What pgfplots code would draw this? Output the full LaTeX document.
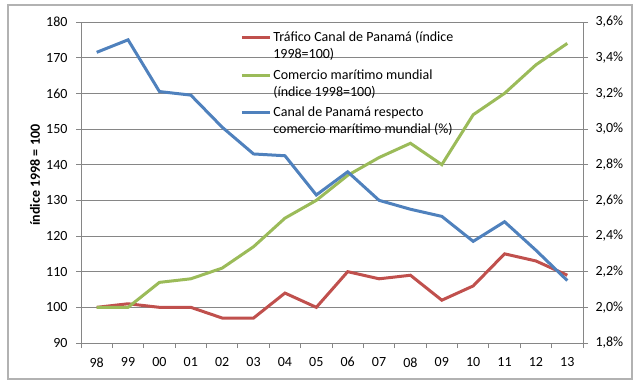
\documentclass[border=0pt]{standalone}
\usepackage{fontspec}
\setmainfont{Carlito}
\usepackage{pgfplots}
\pgfplotsset{compat=1.18}
\definecolor{cred}{RGB}{192,80,77}
\definecolor{cgreen}{RGB}{155,187,89}
\definecolor{cblue}{RGB}{79,129,189}
\definecolor{cgrid}{RGB}{134,134,134}
\begin{document}
\begin{tikzpicture}[x=1bp,y=1bp]
\path[use as bounding box] (0,0) rectangle (640,384);
\draw[color=gray!60, line width=1.2bp] (8,5) rectangle (632,379);
\pgfplotsset{
  every axis/.append style={
    at={(81bp,41bp)}, anchor=south west,
    scale only axis, width=502bp, height=321bp,
    xmin=-0.5, xmax=15.5,
    font=\fontsize{14bp}{17bp}\selectfont,
    tick style={color=cgrid, line width=0.8bp},
    axis line style={color=cgrid, line width=0.8bp},
    major tick length=5bp, minor tick length=5bp,
    tick align=outside,
    /pgf/number format/assume math mode=true,
  }
}
\begin{axis}[
  ymin=90, ymax=180, ytick={90,100,...,180},
  xtick={0,...,15},
  xticklabels={98,99,00,01,02,03,04,05,06,07,08,09,10,11,12,13},
  minor xtick={-0.5,0.5,...,15.5},
  major x tick style={draw=none},
  xtick pos=bottom, ytick pos=left,
  xticklabel style={yshift=-6bp},
  yticklabel style={xshift=-5bp},
  ymajorgrids, grid style={color=cgrid, line width=0.8bp},
  every axis y label/.style={at={(axis description cs:-0.0916,0.523)}, rotate=90, anchor=center},
  ylabel={\textbf{índice 1998 = 100}},
]
\addplot[cred, line width=3bp] coordinates {
(0,100) (1,101) (2,100) (3,100) (4,97) (5,97) (6,104) (7,100)
(8,110) (9,108) (10,109) (11,102) (12,106) (13,115) (14,113) (15,109)};
\addplot[cgreen, line width=3bp] coordinates {
(0,100) (1,100) (2,107) (3,108) (4,111) (5,117) (6,125) (7,130)
(8,137) (9,142) (10,146) (11,140) (12,154) (13,160) (14,168) (15,174)};
\end{axis}
\begin{axis}[
  ymin=1.8, ymax=3.6, ytick={1.8,2,2.2,2.4,2.6,2.8,3,3.2,3.4,3.6},
  axis y line*=right, axis x line=none,
  axis line style={-},
  yticklabel style={xshift=4bp},
  yticklabel={\pgfmathprintnumber[fixed,fixed zerofill,precision=1,use comma]{\tick}\%},
  legend style={at={(0.317,0.977)}, anchor=north west, draw=none, fill=none,
    inner sep=0pt, row sep=5bp, font=\fontsize{14bp}{17bp}\selectfont,
    nodes={align=left}},
  legend cell align=left,
  legend image code/.code={\draw[#1] (0bp,8bp) -- (28bp,8bp);},
]
\addlegendimage{cred, line width=3bp}
\addlegendentry{Tráfico Canal de Panamá (índice\\1998=100)}
\addlegendimage{cgreen, line width=3bp}
\addlegendentry{Comercio marítimo mundial\\(índice 1998=100)}
\addplot[cblue, line width=3bp] coordinates {
(0,3.43) (1,3.50) (2,3.21) (3,3.19) (4,3.01) (5,2.86) (6,2.85) (7,2.63)
(8,2.76) (9,2.60) (10,2.55) (11,2.51) (12,2.37) (13,2.48) (14,2.32) (15,2.15)};
\addlegendentry{Canal de Panamá respecto\\comercio marítimo mundial (\%)}
\end{axis}
\end{tikzpicture}
\end{document}
